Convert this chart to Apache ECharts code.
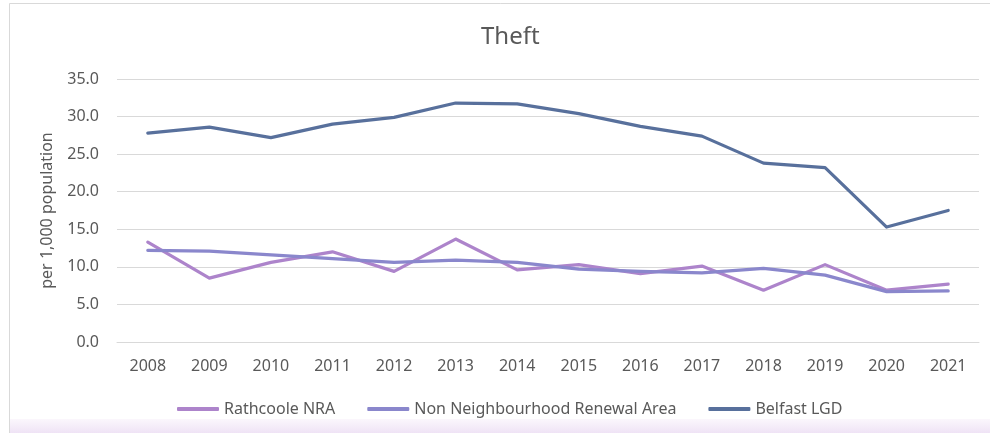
<!DOCTYPE html>
<html>
<head>
<meta charset="utf-8">
<script src="https://cdn.jsdelivr.net/npm/echarts@6/dist/echarts.min.js"></script>
<style>html,body{margin:0;padding:0;background:#fff;}#c{width:990px;height:433px;}</style>
</head>
<body>
<div id="c"></div>
<script>
const years = ['2008','2009','2010','2011','2012','2013','2014','2015','2016','2017','2018','2019','2020','2021'];
const rathcoole = [13.3, 8.5, 10.6, 12.0, 9.4, 13.7, 9.6, 10.3, 9.1, 10.1, 6.9, 10.3, 6.9, 7.7];
const nonNRA = [12.2, 12.1, 11.6, 11.1, 10.6, 10.9, 10.6, 9.7, 9.4, 9.2, 9.8, 8.9, 6.7, 6.8];
const belfast = [27.8, 28.6, 27.2, 29.0, 29.9, 31.8, 31.7, 30.4, 28.7, 27.4, 23.8, 23.2, 15.3, 17.5];
const seriesNames = ['Rathcoole NRA', 'Non Neighbourhood Renewal Area', 'Belfast LGD'];
const colors = ['#AD84CB', '#8A87CC', '#58709C'];

const chart = echarts.init(document.getElementById('c'));
const font = 'Noto Sans';
const mk = (name, data, color) => ({
  name, type: 'line', data, symbol: 'none', smooth: false,
  lineStyle: {width: 3.2, color, cap: 'round', join: 'round'},
  itemStyle: {color}
});
chart.setOption({
  animation: false,
  backgroundColor: '#fff',
  graphic: [
    {type: 'rect', shape: {x: 9.5, y: 3.5, width: 1000, height: 440}, style: {fill: 'none', stroke: '#D9D9D9', lineWidth: 1}, silent: true, z: -10},
    {type: 'rect', shape: {x: 10, y: 419, width: 990, height: 14}, silent: true, z: -9,
      style: {fill: new echarts.graphic.LinearGradient(0, 0, 0, 1, [{offset: 0, color: '#FBF7FC'}, {offset: 1, color: '#EFE3F5'}])}}
  ],
  title: {
    text: 'Theft', left: 476, top: 20,
    textStyle: {fontFamily: font, fontSize: 24, fontWeight: 'normal', color: '#595959'}
  },
  legend: {
    left: 172, top: 396, itemWidth: 42, itemHeight: 4, itemGap: 32, icon: 'roundRect',
    textStyle: {fontFamily: font, fontSize: 16, color: '#595959'},
    data: seriesNames
  },
  grid: {left: 117, right: 11, top: 79, bottom: 91, containLabel: false},
  xAxis: {
    type: 'category', data: years, boundaryGap: true,
    axisLine: {show: true, lineStyle: {color: '#D9D9D9'}},
    axisTick: {show: false},
    axisLabel: {fontFamily: font, fontSize: 16, color: '#595959', margin: 16}
  },
  yAxis: {
    type: 'value', min: 0, max: 35, interval: 5,
    name: 'per 1,000 population', nameLocation: 'middle', nameGap: 62, nameRotate: 90,
    nameTextStyle: {fontFamily: font, fontSize: 16, color: '#595959'},
    axisLine: {show: false}, axisTick: {show: false},
    axisLabel: {fontFamily: font, fontSize: 16, color: '#595959', margin: 18, formatter: v => v.toFixed(1)},
    splitLine: {lineStyle: {color: '#D9D9D9', width: 1}}
  },
  series: [
    mk(seriesNames[0], rathcoole, colors[0]),
    mk(seriesNames[1], nonNRA, colors[1]),
    mk(seriesNames[2], belfast, colors[2])
  ]
});
</script>
</body>
</html>
